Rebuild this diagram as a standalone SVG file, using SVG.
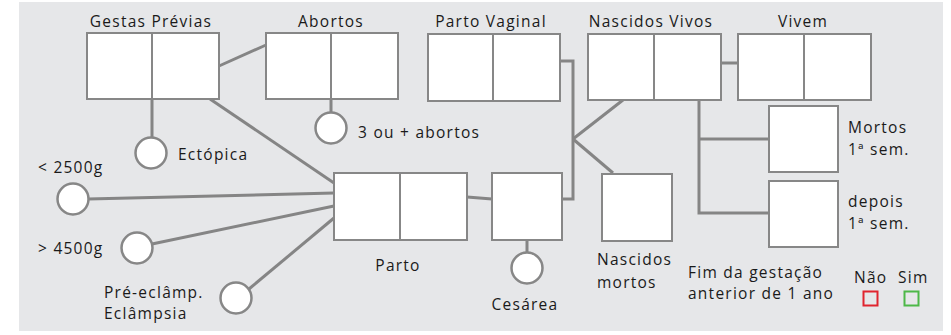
<svg xmlns="http://www.w3.org/2000/svg" width="951" height="335" viewBox="0 0 951 335">
<style>
.bx{fill:#fff;stroke:#878787;stroke-width:2}
.dv{stroke:#878787;stroke-width:2}
.cn{fill:none;stroke:#858585;stroke-width:3}
.ci{fill:#fff;stroke:#878787;stroke-width:2.5}
text{font-family:"Open Sans","Noto Sans",sans-serif;font-size:15.5px;letter-spacing:1.25px;fill:#1a1a1a}
.m{text-anchor:middle}
</style>
<rect x="19" y="2" width="924" height="329" fill="#e6e7e9"/>
<g id="connectors">
<line class="cn" x1="219" y1="66" x2="266" y2="45"/>
<line class="cn" x1="210" y1="99" x2="334" y2="183"/>
<line class="cn" x1="152" y1="99" x2="152" y2="138"/>
<line class="cn" x1="331" y1="99" x2="331" y2="113"/>
<line class="cn" x1="88" y1="199" x2="334" y2="193"/>
<line class="cn" x1="152" y1="244" x2="334" y2="206"/>
<line class="cn" x1="249" y1="289" x2="334" y2="218"/>
<line class="cn" x1="467" y1="197" x2="492" y2="199"/>
<polyline class="cn" points="560,61 573,61 573,199 562,199"/>
<line class="cn" x1="573" y1="139" x2="623" y2="100"/>
<line class="cn" x1="573" y1="139" x2="613" y2="173"/>
<line class="cn" x1="721" y1="63" x2="737" y2="63"/>
<polyline class="cn" points="699,100 699,213 768,213"/>
<line class="cn" x1="699" y1="139" x2="768" y2="139"/>
<line class="cn" x1="527" y1="240" x2="527" y2="253"/>
</g>
<g id="gestas">
<rect class="bx" x="87" y="33" width="132" height="66"/>
<line class="dv" x1="152" y1="33" x2="152" y2="99"/>
<text class="m" x="151" y="27">Gestas Prévias</text>
</g>
<g id="abortos">
<rect class="bx" x="266" y="33" width="132" height="66"/>
<line class="dv" x1="331" y1="33" x2="331" y2="99"/>
<text class="m" x="331" y="27">Abortos</text>
</g>
<g id="parto-vaginal">
<rect class="bx" x="428" y="34" width="132" height="67"/>
<line class="dv" x1="493" y1="34" x2="493" y2="101"/>
<text class="m" x="491" y="27">Parto Vaginal</text>
</g>
<g id="nascidos-vivos">
<rect class="bx" x="588" y="34" width="133" height="66"/>
<line class="dv" x1="654" y1="34" x2="654" y2="100"/>
<text class="m" x="651" y="27">Nascidos Vivos</text>
</g>
<g id="vivem">
<rect class="bx" x="738" y="34" width="133" height="66"/>
<line class="dv" x1="804" y1="34" x2="804" y2="100"/>
<text class="m" x="803" y="27">Vivem</text>
</g>
<g id="mortos-1sem">
<rect class="bx" x="769" y="106" width="69" height="66"/>
<text x="848" y="133">Mortos</text>
<text x="848" y="155">1ª sem.</text>
</g>
<g id="depois-1sem">
<rect class="bx" x="769" y="181" width="69" height="66"/>
<text x="848" y="207">depois</text>
<text x="848" y="229">1ª sem.</text>
</g>
<g id="parto">
<rect class="bx" x="334" y="173" width="133" height="67"/>
<line class="dv" x1="400" y1="173" x2="400" y2="240"/>
<text class="m" x="398" y="271">Parto</text>
</g>
<g id="cesarea-box">
<rect class="bx" x="492" y="173" width="70" height="67"/>
</g>
<g id="nascidos-mortos">
<rect class="bx" x="602" y="174" width="70" height="67"/>
<text x="597" y="265">Nascidos</text>
<text x="597" y="288">mortos</text>
</g>
<g id="ectopica">
<circle class="ci" cx="151" cy="153" r="15.5"/>
<text x="178" y="160">Ectópica</text>
</g>
<g id="tres-abortos">
<circle class="ci" cx="331" cy="128" r="15.5"/>
<text x="358" y="138">3 ou + abortos</text>
</g>
<g id="menos-2500">
<circle class="ci" cx="73" cy="199" r="15.5"/>
<text x="38" y="173">&lt; 2500g</text>
</g>
<g id="mais-4500">
<circle class="ci" cx="137" cy="248" r="15.5"/>
<text x="38" y="254">&gt; 4500g</text>
</g>
<g id="pre-eclampsia">
<circle class="ci" cx="236" cy="298" r="15.5"/>
<text x="104" y="298">Pré-eclâmp.</text>
<text x="104" y="319">Eclâmpsia</text>
</g>
<g id="cesarea">
<circle class="ci" cx="527" cy="268" r="15.5"/>
<text class="m" x="525" y="310">Cesárea</text>
</g>
<g id="legenda">
<text x="688" y="278">Fim da gestação</text>
<text x="688" y="299">anterior de 1 ano</text>
<text x="854" y="283">Não</text>
<text x="898" y="283">Sim</text>
<rect x="863.5" y="291.5" width="14" height="14" fill="none" stroke="#e0252f" stroke-width="2"/>
<rect x="904.5" y="291.5" width="14" height="14" fill="none" stroke="#4db848" stroke-width="2"/>
</g>
</svg>
